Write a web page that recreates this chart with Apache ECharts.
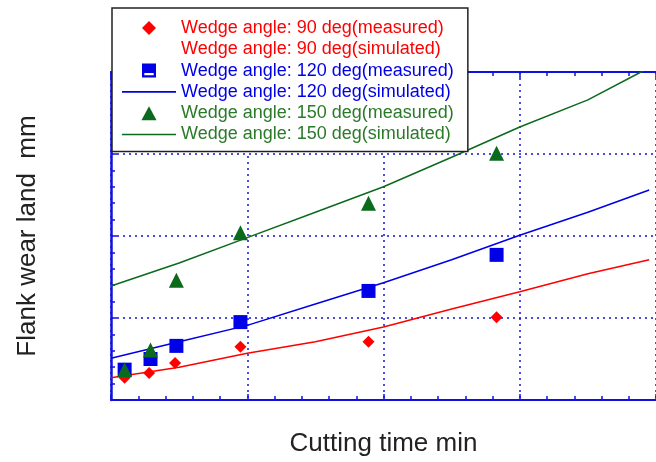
<!DOCTYPE html>
<html>
<head>
<meta charset="utf-8">
<script src="https://cdn.jsdelivr.net/npm/echarts@6/dist/echarts.min.js"></script>
<style>html,body{margin:0;padding:0;background:#fff}#c{width:656px;height:462px}</style>
</head>
<body>
<div id="c"></div>
<script>
// Measured points: [cutting time (min), flank wear land (mm)]
const measured90  = [[1.0,0.027],[2.8,0.033],[4.7,0.045],[9.5,0.065],[18.9,0.071],[28.3,0.101]];
const measured120 = [[1.0,0.037],[2.9,0.050],[4.8,0.066],[9.5,0.095],[18.9,0.133],[28.3,0.177]];
const measured150 = [[1.0,0.037],[2.9,0.061],[4.8,0.146],[9.5,0.204],[18.9,0.240],[28.3,0.301]];
// Simulated curves
const simulated90  = [[0,0.027],[5,0.040],[10,0.057],[15,0.071],[20,0.089],[25,0.111],[30,0.132],[35,0.154],[39.5,0.171]];
const simulated120 = [[0,0.051],[5,0.071],[10,0.091],[15,0.117],[20,0.143],[25,0.171],[30,0.201],[35,0.229],[39.5,0.256]];
const simulated150 = [[0,0.139],[5,0.167],[10,0.198],[15,0.229],[20,0.260],[25,0.296],[30,0.333],[35,0.366],[38.9,0.400],[40,0.410]];
const seriesNames = [
  'Wedge angle: 90 deg(measured)',
  'Wedge angle: 90 deg(simulated)',
  'Wedge angle: 120 deg(measured)',
  'Wedge angle: 120 deg(simulated)',
  'Wedge angle: 150 deg(measured)',
  'Wedge angle: 150 deg(simulated)'
];
const xTitle = 'Cutting time min';
const yTitle = 'Flank wear land  mm';

const RED = '#ff0000', BLUE = '#0000e6', GREEN = '#0b6a1c';
const AX = '#1010e0';
const FONT = '"Liberation Sans", Arial, sans-serif';
const LINE_ICON = 'path://M0,0H54V1.6H0Z';

const chart = echarts.init(document.getElementById('c'), null, {renderer: 'canvas'});
const gridLine = {show: true, lineStyle: {color: AX, width: 1.5, type: [2, 4]}};
const xBase = {
  type: 'value', min: 0, max: 40, interval: 10,
  axisLabel: {show: false},
  axisLine: {show: true, onZero: false, lineStyle: {color: AX, width: 2}},
  axisTick: {show: true, inside: true, length: 6, lineStyle: {color: AX, width: 1.5}},
  minorTick: {show: true, splitNumber: 5, length: 4, lineStyle: {color: AX, width: 1.5}}
};
chart.setOption({
  animation: false,
  backgroundColor: '#fff',
  grid: {left: 111, top: 72, right: -7, bottom: 62, containLabel: false},
  xAxis: [
    Object.assign({}, xBase, {
      position: 'bottom',
      splitLine: gridLine,
      name: xTitle, nameLocation: 'middle', nameGap: 31,
      nameTextStyle: {fontFamily: FONT, fontSize: 26, color: '#222'}
    }),
    Object.assign({}, xBase, {position: 'top', splitLine: {show: false}})
  ],
  yAxis: {
    type: 'value', min: 0, max: 0.4, interval: 0.1,
    axisLabel: {show: false},
    axisLine: {show: true, onZero: false, lineStyle: {color: AX, width: 2.5}},
    axisTick: {show: true, inside: true, length: 6, lineStyle: {color: AX, width: 1.5}},
    minorTick: {show: true, splitNumber: 5, length: 4, lineStyle: {color: AX, width: 1.5}},
    splitLine: gridLine,
    name: yTitle, nameLocation: 'middle', nameGap: 70,
    nameTextStyle: {fontFamily: FONT, fontSize: 26, color: '#222'}
  },
  legend: {
    orient: 'vertical', left: 112, top: 8,
    padding: [11, 14, 8, 10],
    itemWidth: 54, itemHeight: 14, itemGap: 3.3,
    symbolKeepAspect: true,
    backgroundColor: '#fff', borderColor: '#222', borderWidth: 1.5,
    textStyle: {fontFamily: FONT, fontSize: 18, lineHeight: 18},
    selectedMode: false,
    data: [
      {name: seriesNames[0], icon: 'path://M6,0L12,6L6,12L0,6Z', symbolKeepAspect: true, textStyle: {color: RED}},
      {name: seriesNames[1], icon: 'none', textStyle: {color: RED}},
      {name: seriesNames[2], icon: 'path://M0,0H12V12H0Z M2,8V10H10V8Z', symbolKeepAspect: true, textStyle: {color: BLUE}},
      {name: seriesNames[3], icon: LINE_ICON, symbolKeepAspect: true, textStyle: {color: BLUE}},
      {name: seriesNames[4], icon: 'path://M7,0L14,13H0Z', symbolKeepAspect: true, textStyle: {color: '#2a7a2a'}},
      {name: seriesNames[5], icon: LINE_ICON, symbolKeepAspect: true, textStyle: {color: '#2a7a2a'}}
    ]
  },
  series: [
    {name: seriesNames[0], type: 'scatter', data: measured90, symbol: 'diamond', symbolSize: 12, itemStyle: {color: RED, opacity: 1}, z: 5},
    {name: seriesNames[1], type: 'line', data: simulated90, symbol: 'none', clip: true, lineStyle: {color: RED, width: 1.5}, itemStyle: {color: RED}, z: 3},
    {name: seriesNames[2], type: 'scatter', data: measured120, symbol: 'rect', symbolSize: 14, itemStyle: {color: BLUE, opacity: 1}, z: 5},
    {name: seriesNames[3], type: 'line', data: simulated120, symbol: 'none', clip: true, lineStyle: {color: BLUE, width: 1.5}, itemStyle: {color: BLUE}, z: 3},
    {name: seriesNames[4], type: 'scatter', data: measured150, symbol: 'triangle', symbolSize: 15, itemStyle: {color: GREEN, opacity: 1}, z: 5},
    {name: seriesNames[5], type: 'line', data: simulated150, symbol: 'none', clip: true, lineStyle: {color: GREEN, width: 1.5}, itemStyle: {color: GREEN}, z: 3}
  ]
});
</script>
</body>
</html>
